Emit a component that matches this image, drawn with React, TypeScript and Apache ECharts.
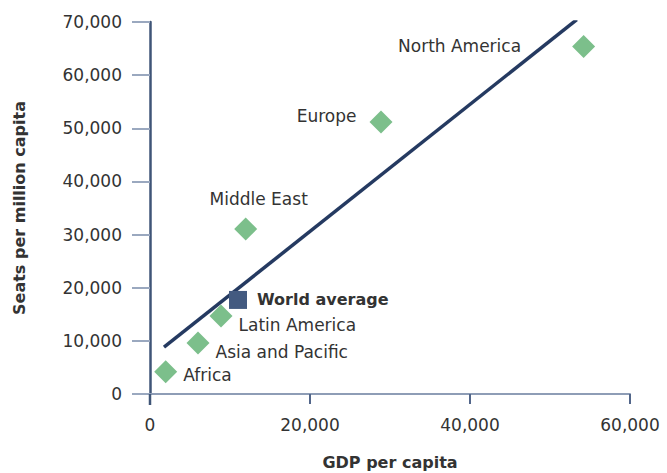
import React, { useEffect, useRef } from "react";
import * as echarts from "echarts";

const regions = ["Africa", "Asia and Pacific", "Latin America", "Middle East", "Europe", "North America"];
const gdpPerCapita = [1960, 6000, 8875, 11960, 28875, 54200];
const seatsPerMillion = [4200, 9600, 14700, 31050, 51200, 65400];

const worldLabel = "World average";
const worldGdp = 11000;
const worldSeats = 17700;

const trendX = [1750, 53350];
const trendY = [8800, 70450];

const xTicks = [0, 20000, 40000, 60000];
const yTicks = [0, 10000, 20000, 30000, 40000, 50000, 60000, 70000];

const FONT = "DejaVu Sans";
const TEXT = "#333333";

const labelStyles: Record<string, any> = {
  "Africa": { position: "right", distance: 6, offset: [0, 3] },
  "Asia and Pacific": { position: "right", distance: 6, offset: [0, 9] },
  "Latin America": { position: "right", distance: 6, offset: [0, 9] },
  "Middle East": { position: "top", distance: 10, offset: [13, 0] },
  "Europe": { position: "left", distance: 13, offset: [0, -6] },
  "North America": { position: "left", distance: 51, offset: [0, 0] },
};

export default function App() {
  const ref = useRef<HTMLDivElement>(null);
  useEffect(() => {
    if (!ref.current) return;
    document.body.style.margin = "0";
    const chart = echarts.init(ref.current, undefined, { renderer: "svg", width: 667, height: 473 });
    const fmt = (v: number) => v.toLocaleString("en-US");
    chart.setOption({
      animation: false,
      textStyle: { fontFamily: FONT },
      grid: { left: 150, right: 37, top: 22, bottom: 79, containLabel: false, outerBoundsMode: "none" },
      xAxis: {
        type: "value",
        min: xTicks[0],
        max: xTicks[xTicks.length - 1],
        interval: 20000,
        name: "GDP per capita",
        nameLocation: "middle",
        nameGap: 60,
        nameTextStyle: { fontFamily: FONT, fontSize: 16, fontWeight: "bold", color: TEXT },
        axisLine: { show: true, lineStyle: { color: "#8e9db6", width: 2 } },
        axisTick: { show: true, length: 10, lineStyle: { color: "#52668a", width: 2 } },
        axisLabel: { margin: 22, fontSize: 17, color: TEXT, fontFamily: FONT, formatter: fmt },
        splitLine: { show: false },
      },
      yAxis: {
        type: "value",
        min: yTicks[0],
        max: yTicks[yTicks.length - 1],
        interval: 10000,
        name: "Seats per million capita",
        nameLocation: "middle",
        nameGap: 123,
        nameRotate: 90,
        nameTextStyle: { fontFamily: FONT, fontSize: 16, fontWeight: "bold", color: TEXT },
        axisLine: { show: true, lineStyle: { color: "#3f5577", width: 2.5 } },
        axisTick: { show: true, length: 18, lineStyle: { color: "#9aa8bf", width: 2 } },
        axisLabel: { margin: 28, fontSize: 17, color: TEXT, fontFamily: FONT, formatter: fmt },
        splitLine: { show: false },
      },
      series: [
        {
          type: "line",
          data: trendX.map((x, i) => [x, trendY[i]]),
          showSymbol: false,
          symbol: "none",
          lineStyle: { color: "#253a61", width: 3.5 },
          z: 3,
          silent: true,
        },
        {
          type: "scatter",
          symbol: "diamond",
          symbolSize: 23,
          itemStyle: { color: "#7cbf8b", opacity: 1 },
          z: 4,
          data: regions.map((r, i) => ({
            name: r,
            value: [gdpPerCapita[i], seatsPerMillion[i]],
            label: {
              show: true,
              formatter: r,
              fontSize: 17,
              color: TEXT,
              fontFamily: FONT,
              ...labelStyles[r],
            },
          })),
        },
        {
          type: "scatter",
          symbol: "rect",
          symbolSize: 18,
          itemStyle: { color: "#435a80", opacity: 1 },
          z: 5,
          data: [
            {
              name: worldLabel,
              value: [worldGdp, worldSeats],
              label: {
                show: true,
                formatter: worldLabel,
                position: "right",
                distance: 10,
                fontSize: 16,
                fontWeight: "bold",
                color: TEXT,
                fontFamily: FONT,
              },
            },
          ],
        },
      ],
    });
    const p = chart.convertToPixel({ gridIndex: 0 }, [0, 0]) as number[];
    chart.setOption({
      graphic: [
        {
          type: "line",
          shape: { x1: p[0], y1: p[1], x2: p[0], y2: p[1] + 11 },
          style: { stroke: "#3f5577", lineWidth: 2.5 },
          z: 10,
        },
      ],
    });
    return () => chart.dispose();
  }, []);
  return <div ref={ref} style={{ width: 667, height: 473, overflow: "hidden" }} />;
}
